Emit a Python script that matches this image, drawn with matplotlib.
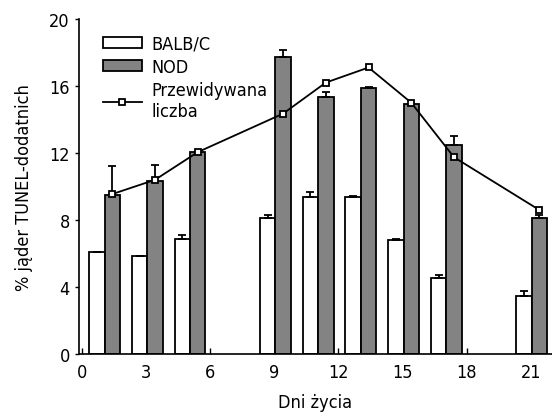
import numpy as np
import matplotlib.pyplot as plt

plt.rcParams['font.family'] = ['DejaVu Sans']
plt.rcParams['font.stretch'] = 'condensed'

days = [1, 3, 5, 9, 11, 13, 15, 17, 21]
balbc = [6.1, 5.85, 6.9, 8.1, 9.4, 9.4, 6.8, 4.55, 3.45]
balbc_err = [0, 0, 0.2, 0.2, 0.25, 0.06, 0.1, 0.2, 0.3]
nod = [9.5, 10.35, 12.05, 17.7, 15.35, 15.9, 14.9, 12.5, 8.1]
nod_err = [1.7, 0.95, 0.0, 0.45, 0.3, 0.06, 0.0, 0.5, 0.2]
predicted = [9.55, 10.4, 12.05, 14.35, 16.2, 17.1, 15.0, 11.75, 8.6]

x = np.array(days) + 0.05
w = 0.72

fig = plt.figure(figsize=(5.52, 4.14), dpi=100)
ax = fig.add_axes([0.143, 0.142, 0.857, 0.81])

b1 = ax.bar(x - w / 2, balbc, w, color='white', edgecolor='black', linewidth=1.3,
            yerr=[np.zeros(len(days)), balbc_err], capsize=3,
            error_kw=dict(elinewidth=1.3, capthick=1.3), zorder=2)
b2 = ax.bar(x + w / 2, nod, w, color='#838383', edgecolor='black', linewidth=1.3,
            yerr=[np.zeros(len(days)), nod_err], capsize=3,
            error_kw=dict(elinewidth=1.3, capthick=1.3), zorder=2)
ln, = ax.plot(x + w / 2, predicted, color='black', linewidth=1.3, marker='s',
              markersize=5, markerfacecolor='white', markeredgecolor='black',
              markeredgewidth=1.3, zorder=3)

ax.set_xlim(-0.15, 22)
ax.set_ylim(0, 20)
ax.set_xticks([0, 3, 6, 9, 12, 15, 18, 21])
ax.set_yticks([0, 4, 8, 12, 16, 20])
ax.tick_params(axis='x', direction='in', length=4, width=1, labelsize=13, pad=6)
ax.tick_params(axis='y', direction='out', length=3, width=1, labelsize=13)
for s in ['top', 'right']:
    ax.spines[s].set_visible(False)
for s in ['left', 'bottom']:
    ax.spines[s].set_linewidth(1.2)

ax.set_xlabel('Dni życia', fontsize=13, labelpad=9)
ax.set_ylabel('% jąder TUNEL-dodatnich', fontsize=13, labelpad=12)

ax.legend([b1, b2, ln], ['BALB/C', 'NOD', 'Przewidywana\nliczba'],
          loc='upper left', bbox_to_anchor=(0.035, 0.975), numpoints=1,
          frameon=False, fontsize=13, handlelength=2.15, handleheight=0.55,
          labelspacing=0.3, handletextpad=0.55, borderaxespad=0)

fig.savefig('out.png', dpi=100)
